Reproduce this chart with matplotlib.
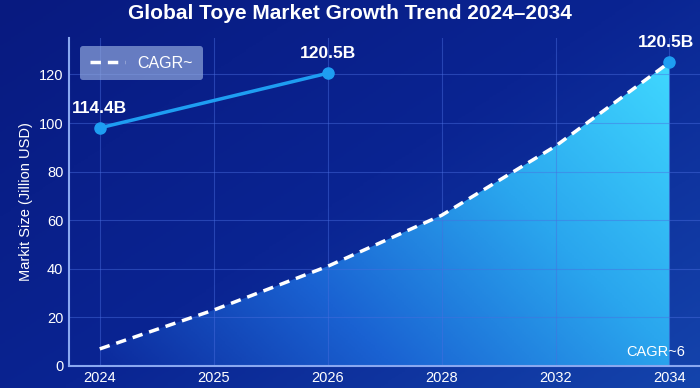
import matplotlib.pyplot as plt
import numpy as np
from matplotlib.colors import LinearSegmentedColormap

plt.rcParams['font.family'] = ['Liberation Sans', 'DejaVu Sans']

years = ['2024', '2025', '2026', '2028', '2032', '2034']
cagr_vals = [7, 23, 41, 62, 90.5, 125]
actual_idx = [0, 2]
actual_vals = [98, 120.5]
actual_labels = ['114.4B', '120.5B']
end_label = '120.5B'

fig = plt.figure(figsize=(7, 3.88), dpi=100)

# background gradient
bg = fig.add_axes([0, 0, 1, 1], zorder=-1)
bg.axis('off')
gx, gy = np.meshgrid(np.linspace(0, 1, 200), np.linspace(0, 1, 200))
bg_cmap = LinearSegmentedColormap.from_list('bg', ['#081a80', '#0a2492', '#1444ac'])
bg.imshow(0.55 * gx + 0.45 * gy, cmap=bg_cmap, aspect='auto',
          extent=[0, 1, 0, 1], origin='upper', vmin=0, vmax=1)

ax = fig.add_axes([0.0986, 0.057, 0.905, 0.845])
ax.set_facecolor('none')
x = np.arange(len(years))

# gradient fill under CAGR line
poly = ax.fill_between(x, cagr_vals, 0, color='none')
fx, fy = np.meshgrid(np.linspace(0, 1, 300), np.linspace(0, 1, 200))
fill_cmap = LinearSegmentedColormap.from_list('fill', ['#0c2a9c', '#1a62d2', '#2aa6ee', '#40d8ff'])
img = ax.imshow(0.65 * fx + 0.35 * fy, cmap=fill_cmap, aspect='auto', extent=[0, 5, 0, 126],
                origin='lower', zorder=1, vmin=0, vmax=1)
img.set_clip_path(poly.get_paths()[0], transform=ax.transData)

ax.plot(x, cagr_vals, ls=(0, (3, 2)), color='white', lw=2.5, zorder=3, label='CAGR~')
ax.plot(x[-1], cagr_vals[-1], 'o', color='#1e9ef2', ms=8, zorder=4)
ax.text(x[-1] - 0.03, cagr_vals[-1] + 5, end_label, color='white', fontsize=12.5,
        fontweight='bold', ha='center', va='bottom', zorder=5)

ax.plot(actual_idx, actual_vals, '-o', color='#1e9ef2', lw=2.5, ms=8, zorder=4)
for i, v, lab in zip(actual_idx, actual_vals, actual_labels):
    ax.text(i, v + 5, lab, color='white', fontsize=12.5, fontweight='bold',
            ha='center', va='bottom', zorder=5)

ax.text(5.14, 3, 'CAGR~6', color='white', fontsize=10.5, ha='right', va='bottom', zorder=5)

ax.set_xlim(-0.27, 5.29)
ax.set_ylim(0, 135)
ax.set_xticks(x)
ax.set_xticklabels(years)
ax.set_yticks(range(0, 121, 20))
ax.tick_params(colors='white', labelsize=10.5, length=0, pad=4)
ax.grid(color='#4a6ee0', lw=0.8, alpha=0.45, zorder=2)
for s in ['top', 'right']:
    ax.spines[s].set_visible(False)
for s in ['left', 'bottom']:
    ax.spines[s].set_color('#8aa8f0')
    ax.spines[s].set_linewidth(1.5)
    ax.spines[s].set_zorder(6)
ax.set_ylabel('Markit Size (Jillion USD)', color='white', fontsize=10.5)

leg = ax.legend(loc='upper left', fontsize=11.5, frameon=True, borderpad=0.6,
                handlelength=2.2, bbox_to_anchor=(0.005, 1.0))
leg.get_frame().set_facecolor('#8fa6dc')
leg.get_frame().set_alpha(0.7)
leg.get_frame().set_edgecolor('none')
for t in leg.get_texts():
    t.set_color('white')

fig.text(0.5, 0.965, 'Global Toye Market Growth Trend 2024\u20132034', color='white',
         fontsize=15, fontweight='bold', ha='center', va='center')

fig.savefig('out.png', dpi=100)
